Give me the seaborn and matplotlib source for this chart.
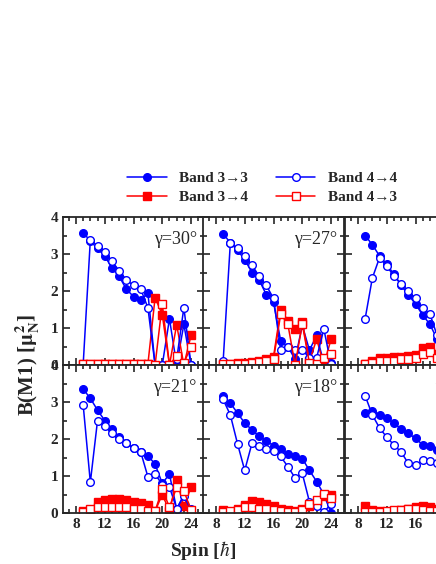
import numpy as np
import pandas as pd
import matplotlib
matplotlib.use("Agg")
import matplotlib.pyplot as plt
import seaborn as sns
from matplotlib.ticker import MultipleLocator

sns.set_style("ticks")
plt.rcParams['font.family'] = ['Liberation Serif', 'DejaVu Serif']
plt.rcParams['mathtext.fontset'] = 'stix'

spin = list(range(9, 25))
gammas = [30, 27, 24, 21, 18, 15]

# B(M1) values per panel, spins 9..24
b33 = {
    30: [3.58, 3.35, 3.15, 2.95, 2.62, 2.40, 2.05, 1.85, 1.75, 1.95, 0.0, 0.0, 1.25, 0.0, 1.10, 0.0],
    27: [3.55, 3.30, 3.10, 2.85, 2.50, 2.30, 1.90, 1.70, 0.65, 0.50, 0.15, 1.07, 0.40, 0.80, 0.05, 0.05],
    24: [3.50, 3.25, 2.95, 2.72, 2.45, 2.15, 1.90, 1.65, 1.35, 1.10, 0.70, 0.50, 0.40, 0.30, 0.20, 0.10],
    21: [3.35, 3.10, 2.78, 2.50, 2.28, 2.05, 1.88, 1.75, 1.65, 1.55, 1.32, 0.80, 1.05, 0.10, 0.50, 0.10],
    18: [3.15, 2.97, 2.70, 2.43, 2.25, 2.07, 1.95, 1.82, 1.73, 1.60, 1.55, 1.47, 1.15, 0.85, 0.50, 0.0],
    15: [2.70, 2.77, 2.65, 2.56, 2.43, 2.27, 2.15, 2.02, 1.84, 1.80, 1.70, 1.60, 1.50, 1.40, 1.30, 1.20],
}
b44 = {
    30: [0.0, 3.38, 3.22, 3.05, 2.80, 2.55, 2.30, 2.15, 2.05, 1.55, 0.0, 0.0, 0.0, 0.15, 1.55, 0.0],
    27: [0.10, 3.30, 3.15, 2.95, 2.70, 2.40, 2.15, 1.80, 0.40, 0.50, 0.40, 0.40, 0.20, 0.20, 0.97, 0.02],
    24: [1.25, 2.35, 2.90, 2.68, 2.40, 2.20, 2.00, 1.80, 1.55, 1.38, 0.80, 0.60, 0.50, 0.40, 0.30, 0.20],
    21: [2.93, 0.83, 2.50, 2.35, 2.15, 2.00, 1.88, 1.75, 1.65, 0.98, 1.05, 0.77, 0.70, 0.12, 0.45, 0.08],
    18: [3.07, 2.65, 1.87, 1.15, 1.88, 1.82, 1.73, 1.67, 1.53, 1.25, 0.95, 1.07, 0.30, 0.20, 0.02, 0.25],
    15: [3.17, 2.65, 2.30, 2.05, 1.84, 1.65, 1.34, 1.30, 1.42, 1.40, 1.35, 1.30, 1.25, 1.20, 1.15, 1.10],
}
b34 = {
    30: [0.02, 0.02, 0.02, 0.02, 0.02, 0.02, 0.02, 0.02, 0.02, 0.02, 1.82, 1.36, 0.0, 1.09, 0.0, 0.80],
    27: [0.03, 0.03, 0.05, 0.05, 0.07, 0.10, 0.15, 0.22, 1.50, 1.20, 0.97, 1.17, 0.10, 0.70, 0.0, 0.70],
    24: [0.02, 0.10, 0.18, 0.20, 0.22, 0.22, 0.25, 0.28, 0.45, 0.50, 0.30, 0.30, 0.30, 0.30, 0.30, 0.30],
    21: [0.05, 0.05, 0.30, 0.35, 0.38, 0.37, 0.35, 0.30, 0.28, 0.22, 0.05, 0.50, 0.05, 0.90, 0.18, 0.70],
    18: [0.08, 0.02, 0.12, 0.22, 0.33, 0.30, 0.25, 0.20, 0.12, 0.08, 0.05, 0.10, 0.20, 0.30, 0.45, 0.50],
    15: [0.20, 0.08, 0.05, 0.03, 0.05, 0.08, 0.12, 0.15, 0.20, 0.15, 0.10, 0.10, 0.10, 0.10, 0.10, 0.10],
}
b43 = {
    30: [0.02, 0.02, 0.02, 0.02, 0.02, 0.02, 0.02, 0.02, 0.02, 0.02, 0.0, 1.65, 0.0, 0.25, 0.05, 0.50],
    27: [0.02, 0.02, 0.03, 0.04, 0.05, 0.07, 0.10, 0.15, 1.38, 1.10, 0.0, 1.10, 0.05, 0.02, 0.20, 0.30],
    24: [0.02, 0.05, 0.10, 0.12, 0.12, 0.15, 0.15, 0.20, 0.30, 0.35, 0.20, 0.20, 0.20, 0.20, 0.20, 0.20],
    21: [0.02, 0.12, 0.15, 0.17, 0.17, 0.15, 0.15, 0.12, 0.10, 0.05, 0.05, 0.65, 0.15, 0.70, 0.60, 0.08],
    18: [0.02, 0.05, 0.08, 0.15, 0.15, 0.12, 0.10, 0.08, 0.05, 0.02, 0.02, 0.08, 0.25, 0.35, 0.52, 0.40],
    15: [0.02, 0.02, 0.02, 0.05, 0.08, 0.08, 0.10, 0.10, 0.08, 0.05, 0.05, 0.05, 0.05, 0.05, 0.05, 0.05],
}

series = [
    ("Band 3→3", b33, "blue", "o", "blue"),
    ("Band 3→4", b34, "red", "s", "red"),
    ("Band 4→4", b44, "blue", "o", "white"),
    ("Band 4→3", b43, "red", "s", "white"),
]

fig = plt.figure(figsize=(4.36, 5.64), dpi=100)
W, H = 436, 564
lefts = [63, 203, 345]
bottoms = [365, 513]
pw, ph = 141, 148

handles = []
for i, g in enumerate(gammas):
    r, c = divmod(i, 3)
    ax = fig.add_axes([lefts[c] / W, 1 - bottoms[r] / H, pw / W, ph / H])
    for name, src, col, mk, fc in series:
        df = pd.DataFrame({"spin": spin, "B": src[g]})
        sns.lineplot(data=df, x="spin", y="B", ax=ax, color=col, marker=mk,
                     markerfacecolor=fc, markeredgecolor=col, markersize=5.5,
                     markeredgewidth=1, lw=1.1, label=name if i == 0 else None)
    if ax.get_legend():
        ax.get_legend().remove()
    ax.set_xlim(6.2, 25.8)
    ax.set_ylim(0, 4)
    ax.xaxis.set_major_locator(MultipleLocator(4))
    ax.xaxis.set_minor_locator(MultipleLocator(1))
    ax.yaxis.set_major_locator(MultipleLocator(1))
    ax.yaxis.set_minor_locator(MultipleLocator(0.5))
    ax.tick_params(which='both', direction='in', top=True, right=True, width=1.2, labelsize=11)
    ax.tick_params(which='major', length=5)
    ax.tick_params(which='minor', length=3)
    for lab in ax.get_xticklabels() + ax.get_yticklabels():
        lab.set_fontweight('bold')
    for s in ax.spines.values():
        s.set_linewidth(1.3)
    ax.set_xlabel("")
    ax.set_ylabel("")
    if c != 0:
        ax.set_yticklabels([])
    if r == 0:
        ax.set_xticklabels([])
    ax.text(0.95, 0.82, f"γ={g}°", transform=ax.transAxes, ha='right', fontsize=13, clip_on=True)
    if i == 0:
        handles, labels = ax.get_legend_handles_labels()

fig.legend(handles, labels, ncol=2, loc='center', bbox_to_anchor=(262 / W, 1 - 188 / H),
           frameon=False, prop={'weight': 'bold', 'size': 11}, handlelength=2.6,
           columnspacing=1.8, labelspacing=0.35)
fig.text(28 / W, 1 - 365 / H, r"B(M1) [$\mathbf{\mu_N^2}$]", rotation=90, ha='center', va='center',
         fontsize=15, fontweight='bold')
fig.text(203 / W, 1 - 550 / H, r"Spin [$\hbar$]", ha='center', va='center', fontsize=14, fontweight='bold')

fig.savefig("out.png", dpi=100)
